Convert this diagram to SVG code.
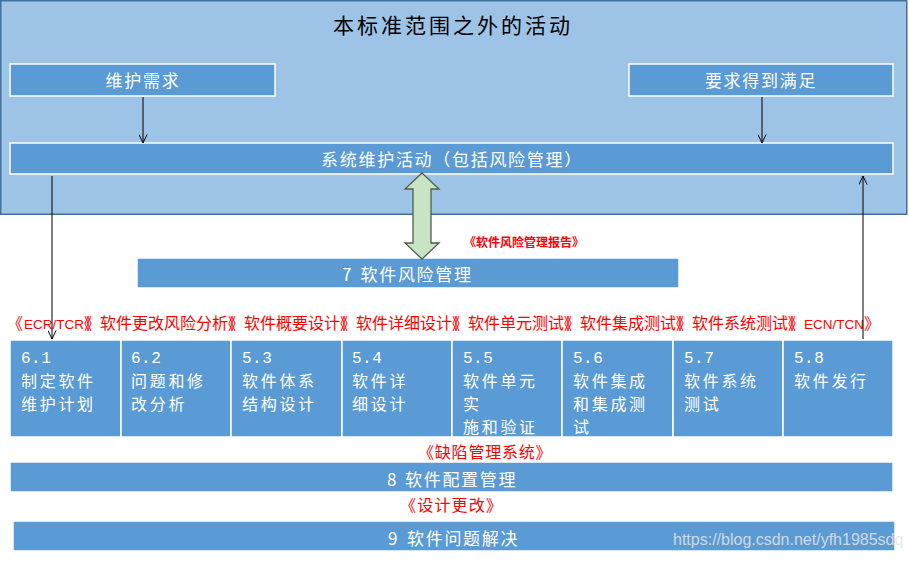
<svg xmlns="http://www.w3.org/2000/svg" width="909" height="561" viewBox="0 0 909 561">
<style>
.bar{fill:#5B9BD5;stroke:#fff;stroke-width:1.5}
.w{fill:#fff;font-family:"Noto Sans CJK SC",sans-serif;font-size:17px;letter-spacing:1.7px}
.b{fill:#fff;font-family:"Noto Sans CJK SC",sans-serif;font-size:16px;letter-spacing:2.7px}
.wn{fill:#fff;font-family:"Liberation Mono",monospace;font-size:16px;letter-spacing:0.5px}
.r{fill:#f00;font-family:"Noto Sans CJK SC",sans-serif;font-size:16px}
.lat{font-family:"Liberation Sans",sans-serif;font-size:13.5px}
.c{text-anchor:middle}
.ln{fill:none;stroke:#000;stroke-width:1}
</style>
<defs>
<marker id="v" viewBox="0 0 10 10" refX="9.5" refY="5" markerWidth="9" markerHeight="9" markerUnits="userSpaceOnUse" orient="auto">
<path d="M0,0.5 L9.5,5 L0,9.5" fill="none" stroke="#000" stroke-width="1.1"/>
</marker>
</defs>
<rect x="0" y="0" width="909" height="561" fill="#fff"/>

<g id="outer">
<rect x="0.75" y="0.75" width="906" height="213.5" fill="#9DC3E6" stroke="#41719C" stroke-width="1.5"/>
<text x="453" y="33" style="font-family:'Noto Sans CJK SC',sans-serif;font-size:21px;letter-spacing:3px;fill:#000" class="c">本标准范围之外的活动</text>
</g>

<g id="req">
<rect class="bar" x="10" y="64" width="265" height="32"/>
<text class="w c" x="143" y="87">维护需求</text>
</g>
<g id="satisfied">
<rect class="bar" x="629" y="64" width="264" height="32"/>
<text class="w c" x="761" y="87">要求得到满足</text>
</g>
<g id="sysmaint">
<rect class="bar" x="10" y="143" width="883" height="31"/>
<text class="w c" x="452" y="166">系统维护活动（包括风险管理）</text>
</g>

<g id="risk">
<rect class="bar" x="137" y="258" width="542" height="30"/>
<text class="w" x="342" y="281">7<tspan x="360.5">软件风险管理</tspan></text>
</g>

<g id="risklabel">
<text class="r" x="464" y="247" style="font-size:12px;font-weight:700">《软件风险管理报告》</text>
</g>

<g id="doclist">
<text class="r" y="329"><tspan x="7">《</tspan><tspan x="24" class="lat">ECR/TCR</tspan><tspan x="84" dx="0 -16">》《</tspan><tspan x="100">软件更改风险分析</tspan><tspan x="228" dx="0 -16">》《</tspan><tspan x="244">软件概要设计</tspan><tspan x="340" dx="0 -16">》《</tspan><tspan x="356">软件详细设计</tspan><tspan x="452" dx="0 -16">》《</tspan><tspan x="468">软件单元测试</tspan><tspan x="564" dx="0 -16">》《</tspan><tspan x="580">软件集成测试</tspan><tspan x="676" dx="0 -16">》《</tspan><tspan x="692">软件系统测试</tspan><tspan x="788" dx="0 -16">》《</tspan><tspan x="804" class="lat">ECN/TCN</tspan><tspan x="864">》</tspan></text>
</g>

<g id="p61"><rect class="bar" x="10" y="340" width="111" height="97"/>
<text class="wn" x="21" y="363">6.1</text><text class="b" x="21" y="386.5">制定软件</text><text class="b" x="21" y="409.7">维护计划</text></g>
<g id="p62"><rect class="bar" x="121" y="340" width="110" height="97"/>
<text class="wn" x="131" y="363">6.2</text><text class="b" x="131" y="386.5">问题和修</text><text class="b" x="131" y="409.7">改分析</text></g>
<g id="p53"><rect class="bar" x="231" y="340" width="111" height="97"/>
<text class="wn" x="242" y="363">5.3</text><text class="b" x="242" y="386.5">软件体系</text><text class="b" x="242" y="409.7">结构设计</text></g>
<g id="p54"><rect class="bar" x="342" y="340" width="110" height="97"/>
<text class="wn" x="352" y="363">5.4</text><text class="b" x="352" y="386.5">软件详</text><text class="b" x="352" y="409.7">细设计</text></g>
<g id="p55"><rect class="bar" x="452" y="340" width="110" height="97"/>
<text class="wn" x="463" y="363">5.5</text><text class="b" x="463" y="386.5">软件单元</text><text class="b" x="463" y="409.7">实</text><text class="b" x="463" y="432.9">施和验证</text></g>
<g id="p56"><rect class="bar" x="562" y="340" width="111" height="97"/>
<text class="wn" x="573" y="363">5.6</text><text class="b" x="573" y="386.5">软件集成</text><text class="b" x="573" y="409.7">和集成测</text><text class="b" x="573" y="432.9">试</text></g>
<g id="p57"><rect class="bar" x="673" y="340" width="110" height="97"/>
<text class="wn" x="684" y="363">5.7</text><text class="b" x="684" y="386.5">软件系统</text><text class="b" x="684" y="409.7">测试</text></g>
<g id="p58"><rect class="bar" x="783" y="340" width="110" height="97"/>
<text class="wn" x="794" y="363">5.8</text><text class="b" x="794" y="386.5">软件发行</text></g>

<g id="defectlabel">
<text class="r" x="418" y="458" style="letter-spacing:0.8px">《缺陷管理系统》</text>
</g>
<g id="config">
<rect class="bar" x="10" y="462" width="883" height="30"/>
<text class="w" x="387" y="486">8<tspan x="405">软件配置管理</tspan></text>
</g>
<g id="changelabel">
<text class="r" x="400" y="511" style="letter-spacing:1.2px">《设计更改》</text>
</g>
<g id="problem">
<rect class="bar" x="13" y="521" width="882" height="30"/>
<text class="w" x="388" y="545">9<tspan x="407">软件问题解决</tspan></text>
</g>

<g id="connectors">
<line class="ln" x1="143" y1="97" x2="143" y2="143" marker-end="url(#v)"/>
<line class="ln" x1="762" y1="97" x2="762" y2="143" marker-end="url(#v)"/>
<line class="ln" x1="52" y1="176" x2="52" y2="339" stroke="#222" marker-end="url(#v)"/>
<line class="ln" x1="863" y1="339" x2="863" y2="176" stroke="#222" marker-end="url(#v)"/>
<polygon points="422,173 439,189 431,189 431,243 439,243 422,259 405,243 413,243 413,189 405,189" fill="#C9E4C5" stroke="#4F5F4A" stroke-width="1.3" stroke-linejoin="miter"/>
</g>

<text x="673" y="545" style="font-family:'Liberation Sans',sans-serif;font-size:16px;fill:#e4e4e4;fill-opacity:0.85">https://blog.csdn.net/yfh1985sdq</text>
</svg>
